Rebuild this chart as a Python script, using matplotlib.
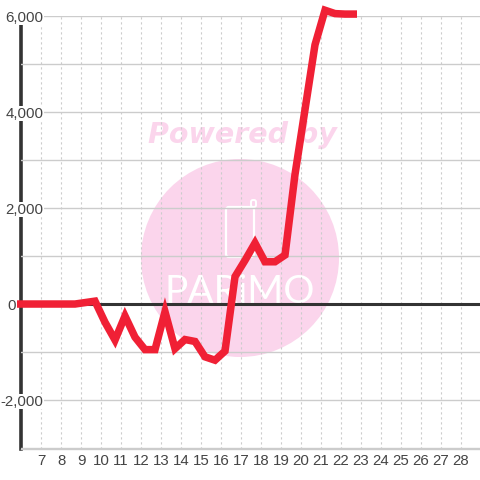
import matplotlib
matplotlib.use("Agg")
import matplotlib.pyplot as plt
from matplotlib.patches import Circle, FancyBboxPatch
from matplotlib.transforms import IdentityTransform

plt.rcParams["font.family"] = ["Liberation Sans", "DejaVu Sans"]

# values
days = [5.8, 6.2, 6.7, 7.2, 7.7, 8.2, 8.7, 9.2, 9.7, 10.2, 10.7, 11.2, 11.7,
        12.2, 12.7, 13.2, 13.7, 14.2, 14.7, 15.2, 15.7, 16.2, 16.7, 17.2,
        17.7, 18.2, 18.7, 19.2, 19.7, 20.2, 20.7, 21.2, 21.7, 22.2, 22.8]
values = [0, 0, 0, 0, 0, 0, 0, 30, 60, -380, -750, -250, -690, -950, -950,
          -160, -930, -740, -780, -1100, -1170, -980, 570, 910, 1270, 880,
          880, 1020, 2700, 4050, 5400, 6120, 6050, 6040, 6040]
x_ticks = list(range(7, 29))
y_major = [-2000, 0, 2000, 4000, 6000]
y_minor = [-3000, -1000, 1000, 3000, 5000]

W = 480
RED = "#f02035"
DARK = "#333333"
GRID = "#cccccc"
PINK = "#fbd5ec"

fig = plt.figure(figsize=(4.8, 4.8), dpi=100)
ax = fig.add_axes([20.5 / W, 1 - 449 / W, (W - 20.5) / W, (449 - 16) / W])
ax.patch.set_alpha(0)

# watermark goes behind the axes
fig.patches.append(Circle((240, W - 258), 99, fc=PINK, ec="none", zorder=-3,
                          transform=IdentityTransform(), figure=fig))
fig.text(242 / W, 1 - 135 / W, "Powered by", color=PINK, fontsize=20.5, zorder=-2,
         family="DejaVu Sans", weight="bold", style="italic", ha="center", va="center")
fig.text(240 / W, 1 - 292 / W, "PARiMO", color="white", fontsize=28, zorder=-2,
         family="Lato", ha="center", va="center")
fig.patches.append(FancyBboxPatch((226, W - 257), 28, 50, boxstyle="round,pad=0,rounding_size=3",
                                  fc="none", ec="white", lw=1.6, zorder=-2,
                                  transform=IdentityTransform(), figure=fig))
fig.patches.append(FancyBboxPatch((251, W - 207), 5, 7, boxstyle="round,pad=0,rounding_size=2",
                                  fc="none", ec="white", lw=1.4, zorder=-2,
                                  transform=IdentityTransform(), figure=fig))

ax.set_xlim(5.975, 28.95)
ax.set_ylim(-3020, 6000)
ax.set_xticks(x_ticks)
ax.set_yticks(y_major)
ax.set_yticks(y_minor, minor=True)
ax.set_yticklabels([f"{v:,}" for v in y_major])
ax.set_axisbelow(True)

ax.grid(True, axis="y", which="both", color=GRID, lw=1)
ax.grid(True, axis="x", color=GRID, lw=0.8, linestyle=(0, (2, 2.5)))
ax.tick_params(axis="both", which="both", length=0, labelsize=10.8, labelcolor="#444444")
ax.tick_params(axis="x", pad=3.5)
ax.tick_params(axis="y", pad=-16.5)

for tick, v in zip(ax.yaxis.get_major_ticks(), y_major):
    if v == 0:
        tick.set_pad(3)
    else:
        tick.label1.set_bbox(dict(fc="white", ec="none", pad=0.5))

for side in ["top", "right"]:
    ax.spines[side].set_visible(False)
ax.spines["bottom"].set_color(GRID)
ax.spines["bottom"].set_linewidth(1)
ax.spines["left"].set_color(DARK)
ax.spines["left"].set_linewidth(2.6)
ax.spines["left"].set_zorder(0.2)

ax.axhline(0, color=DARK, lw=2.2, zorder=1)
ax.plot(days, values, color=RED, lw=5.4, solid_joinstyle="miter", solid_capstyle="butt",
        clip_on=False, zorder=3)

fig.savefig("out.png", dpi=100)
